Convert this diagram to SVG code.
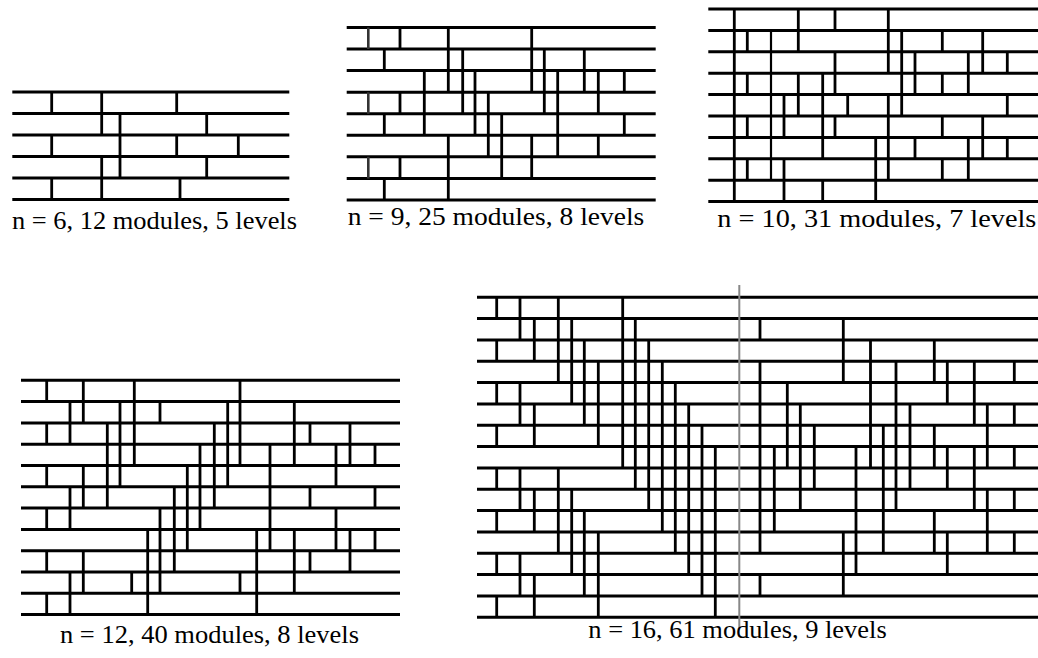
<svg xmlns="http://www.w3.org/2000/svg" width="1038" height="658" viewBox="0 0 1038 658">
<style>
.w{stroke:#000;stroke-width:3;fill:none}
.c{stroke:#000;stroke-width:2.8;fill:none}
.cg{stroke:#333;stroke-width:2.6;fill:none}
.ct{stroke:#000;stroke-width:2.2;fill:none}
.lbl{font-family:'Liberation Serif','Times New Roman',Times,serif;font-size:26px;fill:#000}
</style>
<rect width="1038" height="658" fill="#fff"/>

<g id="net6">
<path class="w" d="M12.3 92H289.3M12.3 113.5H289.3M12.3 135H289.3M12.3 156.5H289.3M12.3 178H289.3M12.3 199.5H289.3"/>
<g id="net6-modules">
<path class="c" d="M51.7 92V113.5M51.7 135V156.5M51.7 178V199.5M101.7 92V135M101.7 156.5V199.5M120 113.5V178M176.7 92V113.5M176.7 135V156.5M180 178V199.5M206.7 113.5V135M206.7 156.5V178M238.3 135V156.5"/>
</g>
<text class="lbl" x="12" y="229" textLength="285" lengthAdjust="spacingAndGlyphs">n = 6, 12 modules, 5 levels</text>
</g>

<g id="net9">
<path class="w" d="M346.7 27.5H655.7M346.7 49H655.7M346.7 70.6H655.7M346.7 92.2H655.7M346.7 113.7H655.7M346.7 135.3H655.7M346.7 156.8H655.7M346.7 178.4H655.7M346.7 199.9H655.7"/>
<g id="net9-modules">
<path class="cg" d="M368.3 27.5V49M368.3 92.2V113.7M368.3 156.8V178.4"/>
<path class="c" d="M384.3 49V70.6M384.3 113.7V135.3M384.3 178.4V199.9M400 27.5V49M400 92.2V113.7M400 156.8V178.4M424.3 70.6V135.3M448.3 27.5V92.2M448.3 135.3V199.9M462.7 49V113.7M475 70.6V135.3M488.3 92.2V156.8M501.7 113.7V178.4M531.7 27.5V92.2M531.7 135.3V178.4M544.3 49V113.7M557.7 70.6V156.8M584.3 49V92.2M598.3 70.6V113.7M598.3 135.3V156.8M624.3 70.6V92.2M624.3 113.7V135.3"/>
</g>
<text class="lbl" x="347.7" y="225" textLength="296.6" lengthAdjust="spacingAndGlyphs">n = 9, 25 modules, 8 levels</text>
</g>

<g id="net10">
<path class="w" d="M708.3 9H1038M708.3 30.4H1038M708.3 51.8H1038M708.3 73.2H1038M708.3 94.6H1038M708.3 116H1038M708.3 137.4H1038M708.3 158.8H1038M708.3 180.2H1038M708.3 201.6H1038"/>
<g id="net10-modules">
<path class="ct" d="M771 30.4V180.2"/>
<path class="c" d="M734.3 9V201.6M747.3 30.4V51.8M747.3 73.2V94.6M747.3 116V137.4M747.3 158.8V180.2M784 94.6V137.4M784 158.8V201.6M798.3 9V51.8M798.3 73.2V116M822.7 73.2V158.8M822.7 180.2V201.6M835 9V30.4M835 51.8V94.6M835 116V137.4M847.7 94.6V116M875.7 137.4V201.6M888.3 9V73.2M888.3 94.6V180.2M901.7 30.4V116M915 51.8V94.6M915 137.4V158.8M942.3 30.4V51.8M942.3 73.2V94.6M942.3 116V137.4M942.3 158.8V180.2M968.3 51.8V94.6M968.3 137.4V180.2M982.7 30.4V73.2M982.7 116V158.8M1007.3 51.8V73.2M1007.3 94.6V116M1007.3 137.4V158.8"/>
</g>
<text class="lbl" x="717.3" y="227" textLength="319" lengthAdjust="spacingAndGlyphs">n = 10, 31 modules, 7 levels</text>
</g>

<g id="net12">
<path class="w" d="M21 380.3H400M21 401.6H400M21 422.9H400M21 444.2H400M21 465.5H400M21 486.8H400M21 508.1H400M21 529.4H400M21 550.7H400M21 572H400M21 593.3H400M21 614.6H400"/>
<g id="net12-modules">
<path class="c" d="M46.7 380.3V401.6M46.7 422.9V444.2M46.7 465.5V486.8M46.7 508.1V529.4M46.7 550.7V572M46.7 593.3V614.6M70 401.6V444.2M70 486.8V529.4M70 572V614.6M83.3 380.3V422.9M83.3 465.5V508.1M83.3 550.7V593.3M107.3 422.9V508.1M120 401.6V486.8M134.3 380.3V465.5M131.7 572V593.3M147.7 529.4V614.6M160 401.6V422.9M160 508.1V593.3M174.3 486.8V572M187.3 465.5V550.7M200 444.2V529.4M214.3 422.9V508.1M227.7 401.6V486.8M240 380.3V465.5M240 572V593.3M256.7 529.4V614.6M270 444.2V550.7M294.3 401.6V465.5M294.3 529.4V593.3M310 422.9V444.2M310 486.8V508.1M310 550.7V572M336 444.2V486.8M336 508.1V550.7M350 422.9V465.5M350 529.4V572M375 444.2V465.5M375 486.8V508.1M375 529.4V550.7"/>
</g>
<text class="lbl" x="60" y="643" textLength="299" lengthAdjust="spacingAndGlyphs">n = 12, 40 modules, 8 levels</text>
</g>

<g id="net16">
<path class="w" d="M477 297.3H1038M477 318.6H1038M477 340H1038M477 361.3H1038M477 382.6H1038M477 404H1038M477 425.3H1038M477 446.6H1038M477 467.9H1038M477 489.3H1038M477 510.6H1038M477 531.9H1038M477 553.3H1038M477 574.6H1038M477 595.9H1038M477 617.3H1038"/>
<g id="net16-modules">
<path class="c" d="M496.7 297.3V318.6M496.7 340V361.3M496.7 382.6V404M496.7 425.3V446.6M496.7 467.9V489.3M496.7 510.6V531.9M496.7 553.3V574.6M496.7 595.9V617.3M520 297.3V340M520 382.6V425.3M520 467.9V510.6M520 553.3V595.9M534.3 318.6V361.3M534.3 404V446.6M534.3 489.3V531.9M534.3 574.6V617.3M558.3 297.3V382.6M558.3 467.9V553.3M571.7 318.6V404M571.7 489.3V574.6M584.3 340V425.3M584.3 510.6V595.9M598.3 361.3V446.6M598.3 531.9V617.3M622.7 297.3V467.9M635.3 318.6V489.3M648.7 340V510.6M662.3 361.3V531.9M675.3 382.6V553.3M688.7 404V574.6M702 425.3V595.9M715.3 446.6V617.3M760 318.6V340M760 361.3V553.3M760 574.6V595.9M774.3 446.6V531.9M787.3 382.6V467.9M800.3 404V510.6M814.3 425.3V489.3M843.3 318.6V382.6M843.3 531.9V595.9M856 446.6V574.6M870.5 340V467.9M883.3 425.3V553.3M896 361.3V510.6M910 404V489.3M934.3 340V382.6M934.3 425.3V467.9M934.3 510.6V553.3M947.3 361.3V404M947.3 446.6V489.3M947.3 531.9V574.6M974.3 361.3V425.3M974.3 446.6V510.6M987.3 404V467.9M987.3 489.3V553.3M1014.3 361.3V382.6M1014.3 404V425.3M1014.3 446.6V467.9M1014.3 489.3V510.6M1014.3 531.9V553.3"/>
</g>
<path id="net16-marker" d="M739.3 285V628" stroke="#888" stroke-width="2" fill="none"/>
<text class="lbl" x="588.3" y="638" textLength="298.4" lengthAdjust="spacingAndGlyphs">n = 16, 61 modules, 9 levels</text>
</g>
</svg>
